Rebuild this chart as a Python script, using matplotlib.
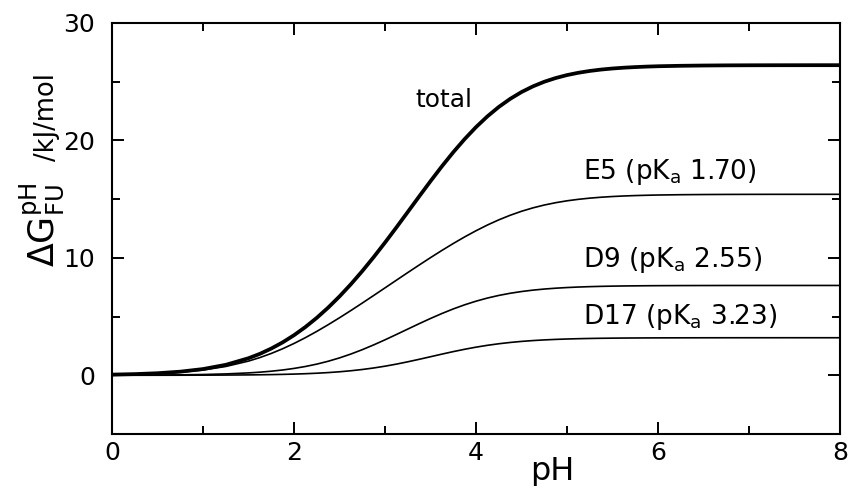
import numpy as np
import matplotlib
matplotlib.use("Agg")
import matplotlib.pyplot as plt
from matplotlib.ticker import MultipleLocator

plt.rcParams['font.family'] = ['DejaVu Sans']
plt.rcParams['mathtext.fontset'] = 'dejavusans'

# pH grid (finer where the curves bend) and free-energy contributions [kJ/mol]
ph = [0.00, 0.25, 0.50, 0.75, 1.00, 1.25, 1.50,
      1.625, 1.75, 1.875, 2.00, 2.125, 2.25, 2.375, 2.50, 2.625, 2.75,
      2.875, 3.00, 3.125, 3.25, 3.375, 3.50, 3.625, 3.75, 3.875, 4.00,
      4.125, 4.25, 4.375, 4.50, 4.625, 4.75, 4.875, 5.00, 5.125, 5.25,
      5.375, 5.50, 5.625, 5.75, 5.875, 6.00,
      6.25, 6.50, 6.75, 7.00, 7.25, 7.50, 7.75, 8.00]

dg_e5 = [0.049, 0.086, 0.151, 0.263, 0.450, 0.751, 1.210,
         1.509, 1.860, 2.260, 2.710, 3.204, 3.738, 4.305, 4.900, 5.517, 6.150,
         6.795, 7.445, 8.097, 8.747, 9.389, 10.020, 10.633, 11.223, 11.784, 12.310,
         12.796, 13.236, 13.626, 13.967, 14.256, 14.499, 14.697, 14.858, 14.985, 15.085,
         15.163, 15.223, 15.269, 15.304, 15.330, 15.351,
         15.377, 15.392, 15.401, 15.406, 15.409, 15.410, 15.411, 15.411]

dg_d9 = [0.007, 0.012, 0.021, 0.037, 0.066, 0.116, 0.202,
         0.265, 0.347, 0.451, 0.584, 0.749, 0.951, 1.194, 1.481, 1.810, 2.181,
         2.587, 3.021, 3.474, 3.935, 4.394, 4.839, 5.261, 5.651, 6.002, 6.311,
         6.577, 6.800, 6.984, 7.132, 7.251, 7.344, 7.416, 7.472, 7.515, 7.548,
         7.573, 7.592, 7.606, 7.616, 7.625, 7.631,
         7.639, 7.643, 7.646, 7.647, 7.648, 7.648, 7.649, 7.649]

dg_d17 = [0.001, 0.002, 0.003, 0.006, 0.011, 0.019, 0.033,
          0.044, 0.058, 0.077, 0.102, 0.134, 0.176, 0.230, 0.299, 0.386, 0.493,
          0.622, 0.775, 0.951, 1.148, 1.360, 1.580, 1.802, 2.016, 2.215, 2.395,
          2.552, 2.685, 2.795, 2.885, 2.956, 3.012, 3.056, 3.090, 3.116, 3.136,
          3.151, 3.162, 3.171, 3.177, 3.182, 3.186,
          3.190, 3.193, 3.195, 3.196, 3.196, 3.197, 3.197, 3.197]

dg_total = [0.057, 0.100, 0.176, 0.308, 0.530, 0.891, 1.453,
            1.828, 2.278, 2.804, 3.415, 4.110, 4.893, 5.762, 6.718, 7.757, 8.874,
            10.061, 11.305, 12.593, 13.909, 15.229, 16.533, 17.797, 18.998, 20.115, 21.136,
            22.050, 22.851, 23.538, 24.121, 24.602, 24.997, 25.312, 25.565, 25.762, 25.916,
            26.035, 26.125, 26.194, 26.246, 26.286, 26.317,
            26.355, 26.378, 26.392, 26.399, 26.403, 26.405, 26.407, 26.407]

labels = ['total', r'E5 (pK$_{\rm a}$ 1.70)', r'D9 (pK$_{\rm a}$ 2.55)',
          r'D17 (pK$_{\rm a}$ 3.23)']

fig = plt.figure(figsize=(8.5, 4.86), dpi=100)
ax = fig.add_axes([0.1318, 0.107, 0.8565, 0.8457])

ax.plot(ph, dg_total, color='black', lw=2.7)
ax.plot(ph, dg_e5, color='black', lw=1.2)
ax.plot(ph, dg_d9, color='black', lw=1.2)
ax.plot(ph, dg_d17, color='black', lw=1.2)

ax.text(3.65, 23.4, labels[0], fontsize=18, ha='center', va='center')
ax.text(5.17, 17.3, labels[1], fontsize=19, va='center')
ax.text(5.17, 9.8, labels[2], fontsize=19, va='center')
ax.text(5.17, 5.0, labels[3], fontsize=19, va='center')

ax.set_xlim(0, 8)
ax.set_ylim(-5, 30)
ax.xaxis.set_major_locator(MultipleLocator(2))
ax.xaxis.set_minor_locator(MultipleLocator(1))
ax.yaxis.set_major_locator(MultipleLocator(10))
ax.yaxis.set_minor_locator(MultipleLocator(5))

ax.tick_params(which='both', direction='in', top=True, right=True,
               width=1.4, labelsize=18)
ax.tick_params(which='major', length=8.5)
ax.tick_params(which='minor', length=6)
ax.tick_params(axis='x', pad=5)
ax.tick_params(axis='y', pad=12)
for s in ax.spines.values():
    s.set_linewidth(1.5)

# axis titles
fig.text(0.65, 0.012, 'pH', fontsize=23, ha='center', va='baseline')
fig.text(0.063, 0.45, r'$\Delta$G$^{\rm pH}_{\rm FU}$', fontsize=25,
         rotation=90, rotation_mode='anchor', ha='left', va='baseline')
fig.text(0.063, 0.668, '/kJ/mol', fontsize=18.5,
         rotation=90, rotation_mode='anchor', ha='left', va='baseline')

fig.savefig('out.png', dpi=100)
